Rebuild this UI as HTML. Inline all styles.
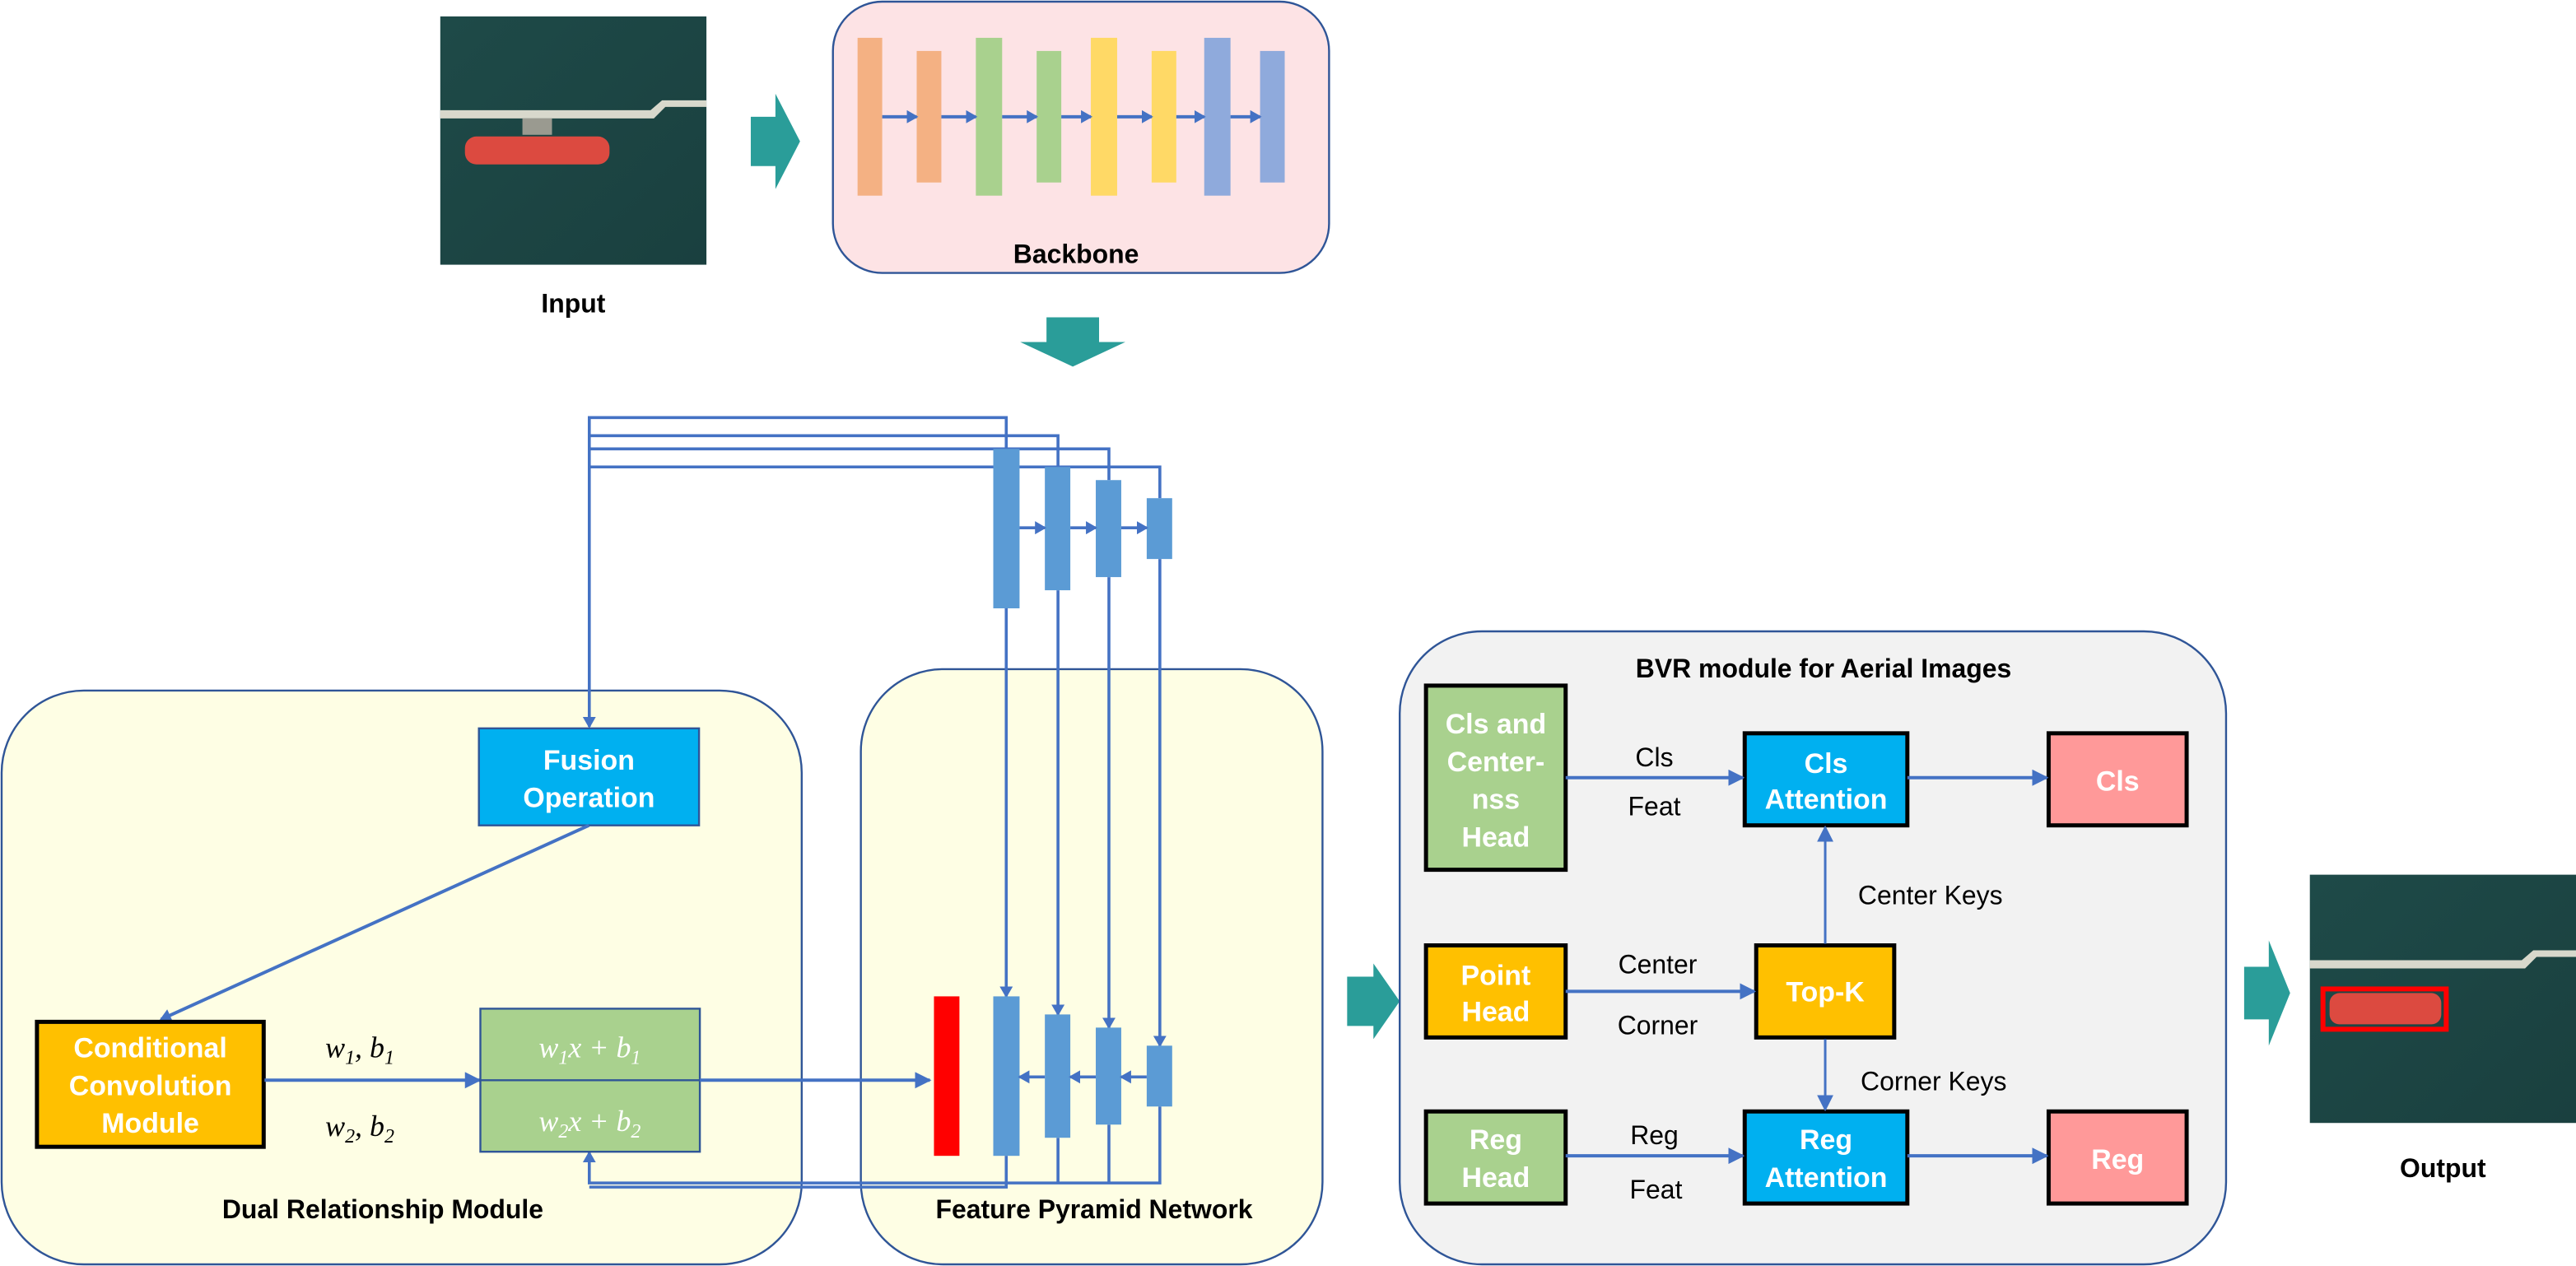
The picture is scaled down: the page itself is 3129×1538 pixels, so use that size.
<!DOCTYPE html>
<html><head><meta charset="utf-8"><style>
html,body{margin:0;padding:0;background:#fff;}
svg{display:block;}
text{font-family:"Liberation Sans",sans-serif;}
.b{font-weight:bold;fill:#000;font-size:16px;}
.w{font-weight:bold;fill:#fff;font-size:17px;}
.l{fill:#000;font-size:16px;}
.m{font-family:"Liberation Serif",serif;font-style:italic;font-size:18px;}
</style></head><body>
<svg width="3129" height="1538" viewBox="0 0 1568 770" preserveAspectRatio="none" xmlns="http://www.w3.org/2000/svg">
<defs>
<marker id="a" markerUnits="userSpaceOnUse" markerWidth="10" markerHeight="10" refX="9" refY="5" orient="auto"><path d="M0,0 L10,5 L0,10 z" fill="#4472c4"/></marker>
<marker id="s" markerUnits="userSpaceOnUse" markerWidth="7" markerHeight="8" refX="6" refY="4" orient="auto"><path d="M0,0 L7,4 L0,8 z" fill="#4472c4"/></marker>
<linearGradient id="sea" x1="0" y1="0" x2="1" y2="1"><stop offset="0" stop-color="#1e4a48"/><stop offset="1" stop-color="#1a403f"/></linearGradient>
</defs>

<!-- Input image -->
<rect x="268" y="10" width="162" height="151" fill="url(#sea)"/>
<path d="M268,67 L396,67 L403,61 L430,61 L430,65 L405,65 L398,72 L268,72 z" fill="#d8d8cc"/>
<rect x="318" y="72" width="18" height="10" fill="#9a9a90"/>
<rect x="283" y="83" width="88" height="17" rx="7" fill="#dc4a40"/>
<text class="b" x="349" y="190" text-anchor="middle">Input</text>

<!-- teal arrow 1 -->
<path d="M457,71 L472,71 L472,57 L487,86 L472,115 L472,101 L457,101 z" fill="#2a9d99"/>

<!-- Backbone -->
<rect x="507" y="1" width="302" height="165" rx="30" fill="#fde3e5" stroke="#2f5597" stroke-width="1.2"/>
<rect x="522" y="23" width="15" height="96" fill="#f4b183"/>
<rect x="558" y="31" width="15" height="80" fill="#f4b183"/>
<rect x="594" y="23" width="16" height="96" fill="#a9d18e"/>
<rect x="631" y="31" width="15" height="80" fill="#a9d18e"/>
<rect x="664" y="23" width="16" height="96" fill="#ffd966"/>
<rect x="701" y="31" width="15" height="80" fill="#ffd966"/>
<rect x="733" y="23" width="16" height="96" fill="#8faadc"/>
<rect x="767" y="31" width="15" height="80" fill="#8faadc"/>
<g stroke="#4472c4" stroke-width="2" marker-end="url(#s)">
<line x1="537" y1="71" x2="558" y2="71"/><line x1="573" y1="71" x2="594" y2="71"/>
<line x1="610" y1="71" x2="631" y2="71"/><line x1="646" y1="71" x2="664" y2="71"/>
<line x1="680" y1="71" x2="701" y2="71"/><line x1="716" y1="71" x2="733" y2="71"/>
<line x1="749" y1="71" x2="767" y2="71"/>
</g>
<text class="b" x="655" y="160" text-anchor="middle">Backbone</text>

<!-- down arrow -->
<path d="M637,193 L669,193 L669,208 L685,208 L653,223 L621,208 L637,208 z" fill="#2a9d99"/>

<!-- DRM box -->
<rect x="1" y="420" width="487" height="349" rx="50" fill="#fefee4" stroke="#2f5597" stroke-width="1.2"/>
<!-- FPN box -->
<rect x="524" y="407" width="281" height="362" rx="50" fill="#fefee4" stroke="#2f5597" stroke-width="1.2"/>

<!-- feedback lines top -->
<g fill="none" stroke="#4472c4" stroke-width="1.8">
<path d="M612.5,273 L612.5,254 L358.7,254 L358.7,284"/>
<path d="M644,284 L644,265 L358.7,265"/>
<path d="M675,292 L675,273 L358.7,273"/>
<path d="M706,303 L706,284 L358.7,284 L358.7,442" marker-end="url(#s)"/>
<line x1="612.5" y1="370" x2="612.5" y2="606" marker-end="url(#s)"/>
<line x1="644" y1="359" x2="644" y2="617" marker-end="url(#s)"/>
<line x1="675" y1="351" x2="675" y2="625" marker-end="url(#s)"/>
<line x1="706" y1="340" x2="706" y2="636" marker-end="url(#s)"/>
<path d="M612.5,703 L612.5,722 L358.7,722"/>
<path d="M644,692 L644,719.5 M675,684 L675,719.5 M706,673 L706,719.5 L358.7,719.5 L358.7,701" marker-end="url(#s)"/>
</g>

<!-- FPN top bars -->
<g fill="#5b9bd5">
<rect x="604.6" y="273" width="16" height="97"/>
<rect x="636" y="284" width="15.5" height="75"/>
<rect x="667" y="292" width="15.5" height="59"/>
<rect x="698" y="303" width="15.5" height="37"/>
<rect x="604.6" y="606" width="16" height="97"/>
<rect x="636" y="617" width="15.5" height="75"/>
<rect x="667" y="625" width="15.5" height="59"/>
<rect x="698" y="636" width="15.5" height="37"/>
</g>
<rect x="568.5" y="606" width="15.5" height="97" fill="#ff0000"/>
<g stroke="#4472c4" stroke-width="1.8" marker-end="url(#s)">
<line x1="620.6" y1="321" x2="636" y2="321"/><line x1="651.5" y1="321" x2="667" y2="321"/><line x1="682.5" y1="321" x2="698" y2="321"/>
<line x1="698" y1="655" x2="682.5" y2="655"/><line x1="667" y1="655" x2="651.5" y2="655"/><line x1="636" y1="655" x2="620.6" y2="655"/>
</g>

<!-- Fusion -->
<rect x="291.5" y="443" width="134" height="59" fill="#00b0f0" stroke="#2f5597" stroke-width="1.2"/>
<text class="w" x="358.5" y="468" text-anchor="middle">Fusion</text>
<text class="w" x="358.5" y="491" text-anchor="middle">Operation</text>
<line x1="358.5" y1="502" x2="98" y2="620" stroke="#4472c4" stroke-width="2" marker-end="url(#s)"/>

<!-- Conditional conv -->
<rect x="22.5" y="621.5" width="138" height="76" fill="#ffc000" stroke="#000" stroke-width="2.5"/>
<text class="w" x="91.5" y="643" text-anchor="middle">Conditional</text>
<text class="w" x="91.5" y="666" text-anchor="middle">Convolution</text>
<text class="w" x="91.5" y="689" text-anchor="middle">Module</text>
<line x1="161" y1="657" x2="292" y2="657" stroke="#4472c4" stroke-width="2" marker-end="url(#a)"/>
<text class="m" x="198" y="643">w<tspan font-size="12" dy="4">1</tspan><tspan dy="-4">, b</tspan><tspan font-size="12" dy="4">1</tspan></text>
<text class="m" x="198" y="691">w<tspan font-size="12" dy="4">2</tspan><tspan dy="-4">, b</tspan><tspan font-size="12" dy="4">2</tspan></text>

<!-- green box -->
<rect x="292.4" y="613.5" width="133.6" height="87" fill="#a9d18e" stroke="#2f5597" stroke-width="1.2"/>
<line x1="292.4" y1="657" x2="426" y2="657" stroke="#2f5597" stroke-width="1.2"/>
<text class="m" fill="#fff" x="359" y="643" text-anchor="middle">w<tspan font-size="12" dy="4">1</tspan><tspan dy="-4">x + b</tspan><tspan font-size="12" dy="4">1</tspan></text>
<text class="m" fill="#fff" x="359" y="688" text-anchor="middle">w<tspan font-size="12" dy="4">2</tspan><tspan dy="-4">x + b</tspan><tspan font-size="12" dy="4">2</tspan></text>
<line x1="426" y1="657" x2="566" y2="657" stroke="#4472c4" stroke-width="2" marker-end="url(#a)"/>

<text class="b" x="233" y="741" text-anchor="middle">Dual Relationship Module</text>
<text class="b" x="666" y="741" text-anchor="middle">Feature Pyramid Network</text>

<!-- teal arrow to BVR -->
<path d="M820,594 L836,594 L836,586 L852,609 L836,632 L836,624 L820,624 z" fill="#2a9d99"/>

<!-- BVR -->
<rect x="852" y="384" width="503" height="385" rx="50" fill="#f2f2f2" stroke="#2f5597" stroke-width="1.2"/>
<text class="b" x="1110" y="412" text-anchor="middle">BVR module for Aerial Images</text>

<rect x="868" y="417" width="85" height="112" fill="#a9d18e" stroke="#000" stroke-width="2.5"/>
<text class="w" x="910.5" y="446" text-anchor="middle">Cls and</text>
<text class="w" x="910.5" y="469" text-anchor="middle">Center-</text>
<text class="w" x="910.5" y="492" text-anchor="middle">nss</text>
<text class="w" x="910.5" y="515" text-anchor="middle">Head</text>

<rect x="1062" y="446" width="99" height="56" fill="#00b0f0" stroke="#000" stroke-width="2.5"/>
<text class="w" x="1111.5" y="470" text-anchor="middle">Cls</text>
<text class="w" x="1111.5" y="492" text-anchor="middle">Attention</text>
<rect x="1247" y="446" width="84" height="56" fill="#ff9999" stroke="#000" stroke-width="2.5"/>
<text class="w" x="1289" y="481" text-anchor="middle">Cls</text>

<rect x="868" y="575" width="85" height="56" fill="#ffc000" stroke="#000" stroke-width="2.5"/>
<text class="w" x="910.5" y="599" text-anchor="middle">Point</text>
<text class="w" x="910.5" y="621" text-anchor="middle">Head</text>
<rect x="1069" y="575" width="84" height="56" fill="#ffc000" stroke="#000" stroke-width="2.5"/>
<text class="w" x="1111" y="609" text-anchor="middle">Top-K</text>

<rect x="868" y="676" width="85" height="56" fill="#a9d18e" stroke="#000" stroke-width="2.5"/>
<text class="w" x="910.5" y="699" text-anchor="middle">Reg</text>
<text class="w" x="910.5" y="722" text-anchor="middle">Head</text>
<rect x="1062" y="676" width="99" height="56" fill="#00b0f0" stroke="#000" stroke-width="2.5"/>
<text class="w" x="1111.5" y="699" text-anchor="middle">Reg</text>
<text class="w" x="1111.5" y="722" text-anchor="middle">Attention</text>
<rect x="1247" y="676" width="84" height="56" fill="#ff9999" stroke="#000" stroke-width="2.5"/>
<text class="w" x="1289" y="711" text-anchor="middle">Reg</text>

<g stroke="#4472c4" stroke-width="2" marker-end="url(#a)">
<line x1="953" y1="473" x2="1061" y2="473"/>
<line x1="1161" y1="473" x2="1246" y2="473"/>
<line x1="953" y1="603" x2="1068" y2="603"/>
<line x1="953" y1="703" x2="1061" y2="703"/>
<line x1="1161" y1="703" x2="1246" y2="703"/>
<line x1="1111" y1="574" x2="1111" y2="503" stroke-width="1.5"/>
<line x1="1111" y1="632" x2="1111" y2="675" stroke-width="1.5"/>
</g>
<text class="l" x="1007" y="466" text-anchor="middle">Cls</text>
<text class="l" x="1007" y="496" text-anchor="middle">Feat</text>
<text class="l" x="1009" y="592" text-anchor="middle">Center</text>
<text class="l" x="1009" y="629" text-anchor="middle">Corner</text>
<text class="l" x="1007" y="696" text-anchor="middle">Reg</text>
<text class="l" x="1008" y="729" text-anchor="middle">Feat</text>
<text class="l" x="1175" y="550" text-anchor="middle">Center Keys</text>
<text class="l" x="1177" y="663" text-anchor="middle">Corner Keys</text>

<!-- output arrow -->
<path d="M1366,588 L1381,588 L1381,572 L1394,604 L1381,636 L1381,620 L1366,620 z" fill="#2a9d99"/>

<!-- Output image -->
<rect x="1406" y="532" width="162" height="151" fill="url(#sea)"/>
<path d="M1406,584 L1535,584 L1542,578 L1568,578 L1568,582 L1544,582 L1537,589 L1406,589 z" fill="#d8d8cc"/>
<rect x="1418" y="604" width="68" height="19" rx="6" fill="#dc4a40"/>
<rect x="1414" y="601.5" width="75" height="24.5" fill="none" stroke="#ff0000" stroke-width="3"/>
<text class="b" x="1487" y="716" text-anchor="middle">Output</text>
</svg>
</body></html>
